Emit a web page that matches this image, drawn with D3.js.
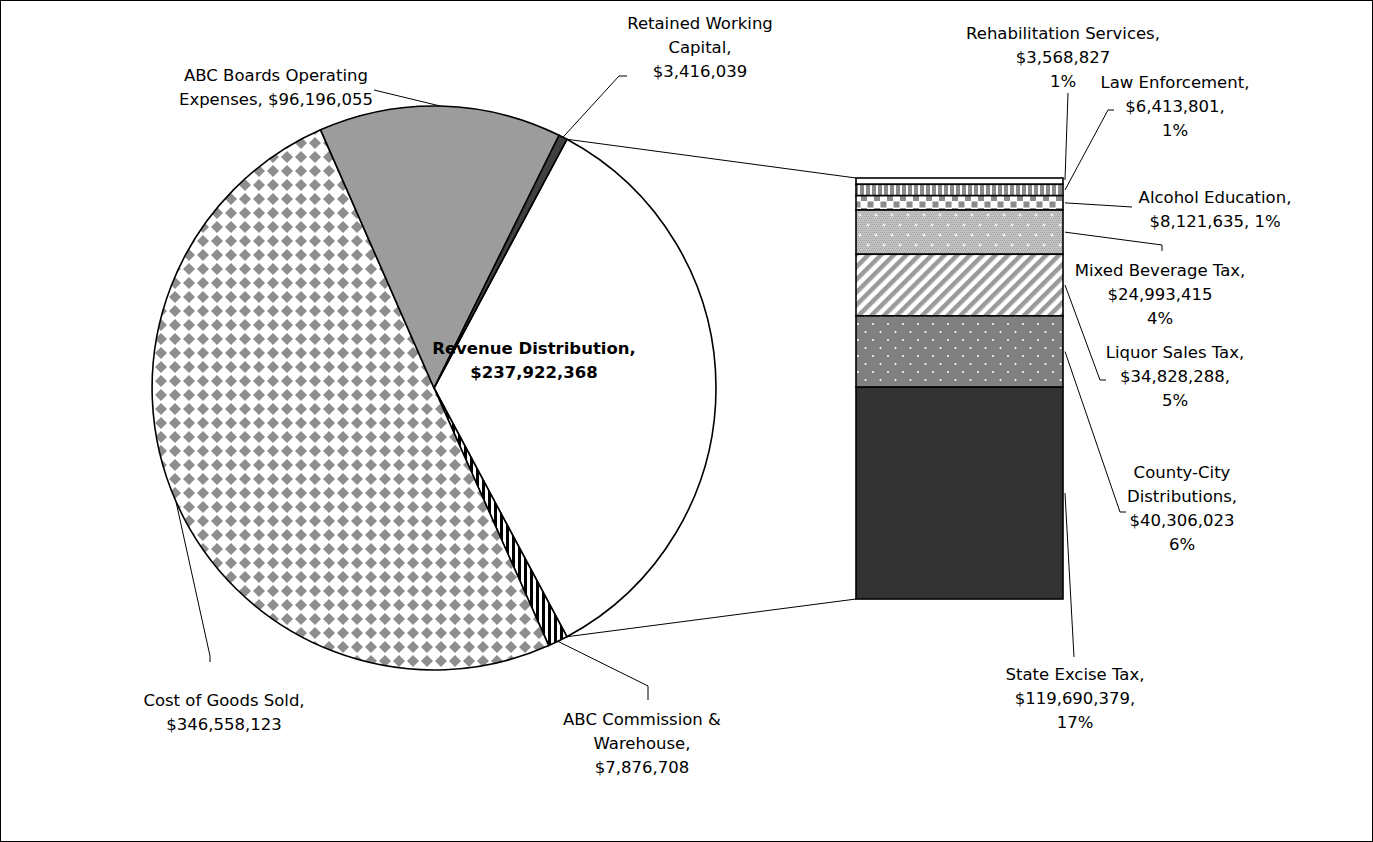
<!DOCTYPE html>
<html><head><meta charset="utf-8">
<script src="https://cdn.jsdelivr.net/npm/d3@7"></script>
<style>html,body{margin:0;padding:0;background:#fff}svg{display:block}text{font-family:"DejaVu Sans",sans-serif;font-size:16.5px;fill:#000}</style>
</head><body><svg id="c" width="1373" height="842"></svg>
<script>
// ---- data ----
const pieCategories = ["Revenue Distribution", "ABC Commission & Warehouse", "Cost of Goods Sold", "ABC Boards Operating Expenses", "Retained Working Capital"];
const pieValues = [237922368, 7876708, 346558123, 96196055, 3416039];
const barCategories = ["Rehabilitation Services", "Law Enforcement", "Alcohol Education", "Mixed Beverage Tax", "Liquor Sales Tax", "County-City Distributions", "State Excise Tax"];
const barValues = [3568827, 6413801, 8121635, 24993415, 34828288, 40306023, 119690379];

// ---- layout ----
const svg = d3.select("#c");
const W = 1373, H = 842;
const cx = 434, cy = 388, R = 282;
const barX0 = 856, barX1 = 1063, barTop = 178, barBottom = 599;
const LH = 24;
const money = d3.format("$,");
const pct = d3.format(".0%");
const grandTotal = d3.sum(pieValues);
const splitTotal = d3.sum(barValues);

const defs = svg.append("defs");
function pat(id, w, h, build, transform) {
  const p = defs.append("pattern").attr("id", id).attr("patternUnits", "userSpaceOnUse").attr("width", w).attr("height", h);
  if (transform) p.attr("patternTransform", transform);
  build(p);
}
pat("pVStripeBW", 6, 6, p => { p.append("rect").attr("width", 6).attr("height", 6).attr("fill", "#fff"); p.append("rect").attr("width", 3).attr("height", 6).attr("fill", "#000"); });
pat("pDiamond", 14, 14, p => {
  p.append("rect").attr("width", 14).attr("height", 14).attr("fill", "#fff");
  p.append("polygon").attr("points", "7,1 13,7 7,13 1,7").attr("fill", "#8e8e8e");
});
pat("pVStripeG", 6, 6, p => { p.append("rect").attr("width", 6).attr("height", 6).attr("fill", "#fff"); p.append("rect").attr("x", 2).attr("width", 4).attr("height", 6).attr("fill", "#8a8a8a"); });
pat("pChecker", 13, 13, p => {
  p.append("rect").attr("width", 13).attr("height", 13).attr("fill", "#fff");
  p.append("rect").attr("x", 3).attr("y", 0).attr("width", 6).attr("height", 6).attr("fill", "#8a8a8a");
  p.append("rect").attr("x", 9.5).attr("y", 6.5).attr("width", 6).attr("height", 6).attr("fill", "#8a8a8a");
  p.append("rect").attr("x", -3.5).attr("y", 6.5).attr("width", 6).attr("height", 6).attr("fill", "#8a8a8a");
});
pat("pGrid", 16, 20, p => {
  p.append("rect").attr("width", 16).attr("height", 20).attr("fill", "#c2c2c2");
  for (let x = 0; x < 16; x += 2) for (let y = 0; y < 20; y += 2) p.append("rect").attr("x", x + ((y/2)%2)).attr("y", y).attr("width", 1).attr("height", 1).attr("fill", "#a4a4a4");
  [[4,5],[12,15]].forEach(([x,y]) => {
    p.append("rect").attr("x", x-1.5).attr("y", y-0.5).attr("width", 3).attr("height", 1).attr("fill", "#fff");
    p.append("rect").attr("x", x-0.5).attr("y", y-1.5).attr("width", 1).attr("height", 3).attr("fill", "#fff");
  });
});
pat("pDiag", 9, 9, p => { p.append("rect").attr("width", 9).attr("height", 9).attr("fill", "#fff"); p.append("rect").attr("width", 4.5).attr("height", 9).attr("fill", "#9a9a9a"); }, "rotate(45)");
pat("pDots", 15, 16, p => {
  p.append("rect").attr("width", 15).attr("height", 16).attr("fill", "#808080");
  p.append("circle").attr("cx", 3).attr("cy", 4).attr("r", 1).attr("fill", "#fff");
  p.append("circle").attr("cx", 10.5).attr("cy", 12).attr("r", 1).attr("fill", "#fff");
});

const pieFills = ["#ffffff", "url(#pVStripeBW)", "url(#pDiamond)", "#9c9c9c", "#404040"];
const barFills = ["#ffffff", "url(#pVStripeG)", "url(#pChecker)", "url(#pGrid)", "url(#pDiag)", "url(#pDots)", "#333333"];

// frame
svg.append("rect").attr("x", 0.5).attr("y", 0.5).attr("width", W - 1).attr("height", H - 1).attr("fill", "none").attr("stroke", "#000").attr("stroke-width", 1);

// ---- pie ----
const revSpan = pieValues[0] / grandTotal * 2 * Math.PI;
const a0 = Math.PI / 2 - revSpan / 2;
const pie = d3.pie().sort(null).value(d => d).startAngle(a0).endAngle(a0 + 2 * Math.PI);
const arcs = pie(pieValues);
const arc = d3.arc().innerRadius(0).outerRadius(R);
const pt = (a, r) => [cx + r * Math.sin(a), cy - r * Math.cos(a)];

const g = svg.append("g").attr("transform", `translate(${cx},${cy})`);
g.selectAll("path").data(arcs).join("path").attr("d", arc)
  .attr("fill", (d, i) => pieFills[i]).attr("stroke", "#000").attr("stroke-width", 1.6).attr("stroke-linejoin", "round");

// ---- bar of pie ----
const y = d3.scaleLinear().domain([0, splitTotal]).range([barBottom, barTop]);
let acc = 0;
const segs = barValues.map((v, i) => ({ i, v })).reverse().map(d => { const s = { ...d, y0: acc, y1: acc + d.v }; acc += d.v; return s; }).reverse();
svg.append("g").selectAll("rect").data(segs).join("rect")
  .attr("x", barX0).attr("width", barX1 - barX0)
  .attr("y", d => y(d.y1)).attr("height", d => y(d.y0) - y(d.y1))
  .attr("fill", d => barFills[d.i]).attr("stroke", "#000").attr("stroke-width", 1.6);

// connector lines pie -> bar
const pTop = pt(arcs[0].startAngle, R), pBot = pt(arcs[0].endAngle, R);
const conn = svg.append("g").attr("stroke", "#000").attr("stroke-width", 1).attr("fill", "none");
conn.append("line").attr("x1", pTop[0]).attr("y1", pTop[1]).attr("x2", barX0).attr("y2", y(splitTotal));
conn.append("line").attr("x1", pBot[0]).attr("y1", pBot[1]).attr("x2", barX0).attr("y2", y(0));

// ---- labels ----
function label(x, y0, lines, bold) {
  const t = svg.append("text").attr("text-anchor", "middle").attr("font-weight", bold ? "bold" : null);
  lines.forEach((s, k) => t.append("tspan").attr("x", x).attr("y", y0 + k * LH + 6).text(s));
}
const lead = svg.append("g").attr("stroke", "#000").attr("stroke-width", 1).attr("fill", "none");
const line = d3.line();

const pieLayout = [
  { x: 534, y: 348, lines: (n, v) => [n + ",", money(v)], bold: true },
  { x: 642, y: 719, lines: (n, v) => ["ABC Commission &", "Warehouse,", money(v)], pts: [[648, 686], [648, 700]] },
  { x: 224, y: 700, lines: (n, v) => [n + ",", money(v)], pts: [[210, 656], [210, 662]] },
  { x: 276, y: 75, lines: (n, v) => ["ABC Boards Operating", "Expenses, " + money(v)], pts: [[374, 90]] },
  { x: 700, y: 23, lines: (n, v) => ["Retained Working", "Capital,", money(v)], pts: [[619, 76], [627, 76]] },
];
arcs.forEach((a, i) => {
  const L = pieLayout[i];
  label(L.x, L.y, L.lines(pieCategories[i], pieValues[i]), L.bold);
  if (L.pts) {
    const m = pt((a.startAngle + a.endAngle) / 2, R);
    lead.append("path").attr("d", line([m, ...L.pts]));
  }
});

const barLayout = [
  { x: 1063, y: 33, lines: (n, v, p) => [n + ",", money(v), p], pts: [[1068, 93]] },
  { x: 1175, y: 82, lines: (n, v, p) => [n + ",", money(v) + ",", p], pts: [[1108, 110], [1114, 110]] },
  { x: 1215, y: 197, lines: (n, v, p) => [n + ",", money(v) + ", " + p], pts: [[1132, 207]] },
  { x: 1160, y: 270, lines: (n, v, p) => [n + ",", money(v), p], pts: [[1162, 245], [1162, 251]] },
  { x: 1175, y: 352, lines: (n, v, p) => [n + ",", money(v) + ",", p], pts: [[1100, 380], [1106, 380]] },
  { x: 1182, y: 472, lines: (n, v, p) => ["County-City", "Distributions,", money(v), p], pts: [[1120, 512], [1126, 512]] },
  { x: 1075, y: 674, lines: (n, v, p) => [n + ",", money(v) + ",", p], pts: [[1074, 657]] },
];
segs.forEach(s => {
  const L = barLayout[s.i];
  label(L.x, L.y, L.lines(barCategories[s.i], s.v, pct(s.v / grandTotal)));
  const ym = s.i === 0 ? y(s.y1) + 2 : (y(s.y0) + y(s.y1)) / 2;
  lead.append("path").attr("d", line([[barX1 + 2, ym], ...L.pts]));
});
</script></body></html>
